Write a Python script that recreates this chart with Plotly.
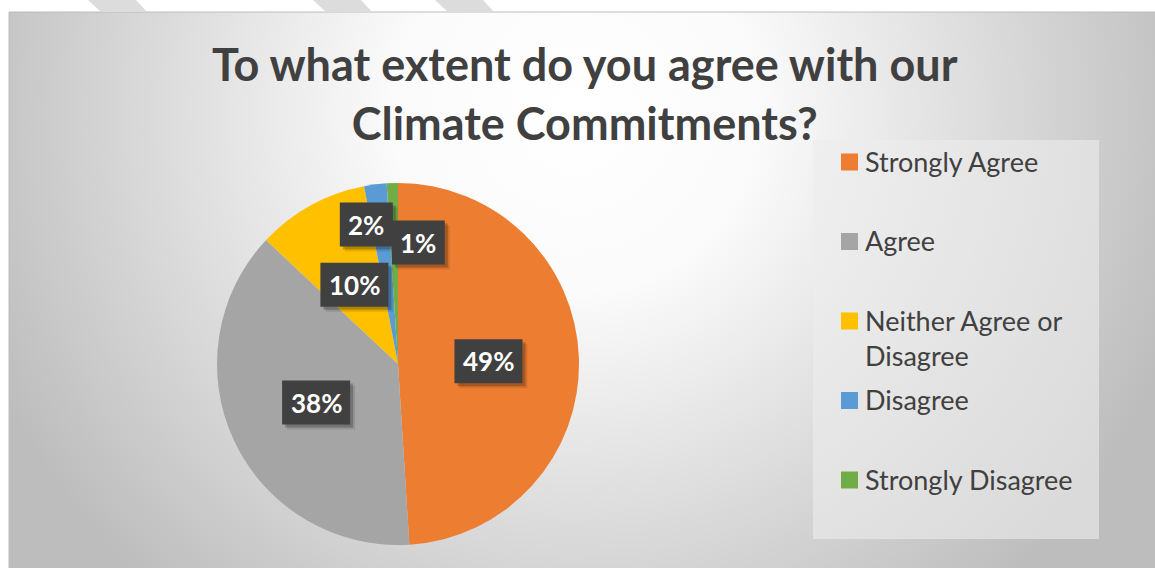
import math
import base64
import plotly.graph_objects as go

# ---------------- data ----------------
categories = ["Strongly Agree", "Agree", "Neither Agree or Disagree", "Disagree", "Strongly Disagree"]
legend_labels = ["Strongly Agree", "Agree", "Neither Agree or<br>Disagree", "Disagree", "Strongly Disagree"]
values = [49, 38, 10, 2, 1]
label_texts = ["49%", "38%", "10%", "2%", "1%"]
colors = ["#ED7D31", "#A5A5A5", "#FFC000", "#5B9BD5", "#70AD47"]
title_text = "To what extent do you agree with our<br>Climate Commitments?"

# label placement (fraction of radius, angular nudge in degrees) as Excel did
label_radius = [0.5, 0.5, 0.5, 0.79, 0.68]
label_angle_offset = [0, 0, 0, 5.6, -11.3]

# ---------------- layout constants ----------------
W, H = 1155, 568
FX, FY = 9, 12               # chart frame top-left (px)
CX, CY, R = 398, 364, 181    # pie centre / radius (px)
FONT = "Lato"
TXT = "#404040"


def px(x):
    return x / W


def py(y):
    return 1 - y / H


# gradient background as svg image
fw, fh = W - FX, H - FY
svg = (
    f'<svg xmlns="http://www.w3.org/2000/svg" width="{fw}" height="{fh}" '
    f'viewBox="0 0 {fw} {fh}" preserveAspectRatio="none">'
    '<defs><radialGradient id="g" gradientUnits="userSpaceOnUse" cx="566" cy="98" r="640">'
    '<stop offset="0" stop-color="#ffffff"/>'
    '<stop offset="0.28" stop-color="#fbfbfb"/>'
    '<stop offset="1" stop-color="#bdbdbd"/>'
    '</radialGradient></defs>'
    f'<rect width="{fw}" height="{fh}" fill="url(#g)"/></svg>'
)
svg_uri = "data:image/svg+xml;base64," + base64.b64encode(svg.encode()).decode()

fig = go.Figure()
fig.add_trace(go.Pie(
    labels=categories,
    values=values,
    marker=dict(colors=colors, line=dict(width=0)),
    sort=False,
    direction="clockwise",
    rotation=0,
    textinfo="none",
    hoverinfo="label+percent",
    showlegend=False,
    domain=dict(x=[px(CX - R), px(CX + R)], y=[py(CY + R), py(CY - R)]),
))

shapes = []
annotations = []

# frame border
shapes.append(dict(type="rect", xref="paper", yref="paper",
                   x0=px(FX), x1=1.002, y0=-0.002, y1=py(FY),
                   line=dict(color="#bcbcbc", width=1), fillcolor="rgba(0,0,0,0)", layer="below"))
# decorative stripes above frame
for (a, b) in [(88, 136), (313, 361), (435, 483)]:
    path = (f"M {px(a)} {py(0)} L {px(b)} {py(0)} L {px(b + 11)} {py(FY)} "
            f"L {px(a + 13)} {py(FY)} Z")
    shapes.append(dict(type="path", xref="paper", yref="paper", path=path,
                       fillcolor="#dcdcdc", line=dict(width=0), layer="below"))

# title (two centred lines)
annotations.append(dict(
    xref="paper", yref="paper", x=px(585), y=py(93), xanchor="center", yanchor="middle",
    text=title_text, showarrow=False, align="center",
    font=dict(family=FONT, size=45, color=TXT, weight="bold")))

# data labels (dark boxes with soft shadow)
total = sum(values)
cum = 0
BH = 44
for i, v in enumerate(values):
    start = 90 - 360 * cum / total
    end = 90 - 360 * (cum + v) / total
    cum += v
    mid = math.radians((start + end) / 2 + label_angle_offset[i])
    r = R * label_radius[i]
    lx = CX + r * math.cos(mid)
    ly = CY - r * math.sin(mid)
    bw = 23 + 15 * len(label_texts[i])
    for sh, fill in [(5, "rgba(0,0,0,0.10)"), (3, "rgba(0,0,0,0.22)"), (0, "#404040")]:
        shapes.append(dict(type="rect", xref="paper", yref="paper",
                           x0=px(lx - bw / 2 + sh), x1=px(lx + bw / 2 + sh),
                           y0=py(ly + BH / 2 + sh), y1=py(ly - BH / 2 + sh),
                           fillcolor=fill, line=dict(width=0), layer="above"))
    annotations.append(dict(
        xref="paper", yref="paper", x=px(lx), y=py(ly),
        xanchor="center", yanchor="middle",
        text=label_texts[i], showarrow=False,
        font=dict(family=FONT, size=26, color="#ffffff", weight="bold")))

# legend box
shapes.append(dict(type="rect", xref="paper", yref="paper",
                   x0=px(813), x1=px(1099), y0=py(539), y1=py(140),
                   fillcolor="rgba(236,236,236,0.6)", line=dict(width=0), layer="below"))
LEG_Y0, LEG_STEP, LEG_SIZE = 162, 79.5, 27
for i, lab in enumerate(legend_labels):
    yc = LEG_Y0 + i * LEG_STEP
    shapes.append(dict(type="rect", xref="paper", yref="paper",
                       x0=px(841), x1=px(858), y0=py(yc + 8.5), y1=py(yc - 8.5),
                       fillcolor=colors[i], line=dict(width=0)))
    nlines = lab.count("<br>") + 1
    annotations.append(dict(
        xref="paper", yref="paper", x=px(863), y=py(yc - 1 + (nlines - 1) * 17.5),
        xanchor="left", yanchor="middle", align="left",
        text=lab, showarrow=False,
        font=dict(family=FONT, size=LEG_SIZE, color=TXT)))

fig.update_layout(
    width=W, height=H,
    margin=dict(l=0, r=0, t=0, b=0),
    paper_bgcolor="#ffffff",
    plot_bgcolor="rgba(0,0,0,0)",
    images=[dict(source=svg_uri, xref="paper", yref="paper",
                 x=px(FX), y=py(FY), sizex=px(fw), sizey=fh / H,
                 xanchor="left", yanchor="top", sizing="stretch", layer="below")],
    shapes=shapes,
    annotations=annotations,
)

fig.write_html("out.html",
               config={"displayModeBar": False},
               post_script="document.body.style.margin='0';document.body.style.overflow='hidden';")
